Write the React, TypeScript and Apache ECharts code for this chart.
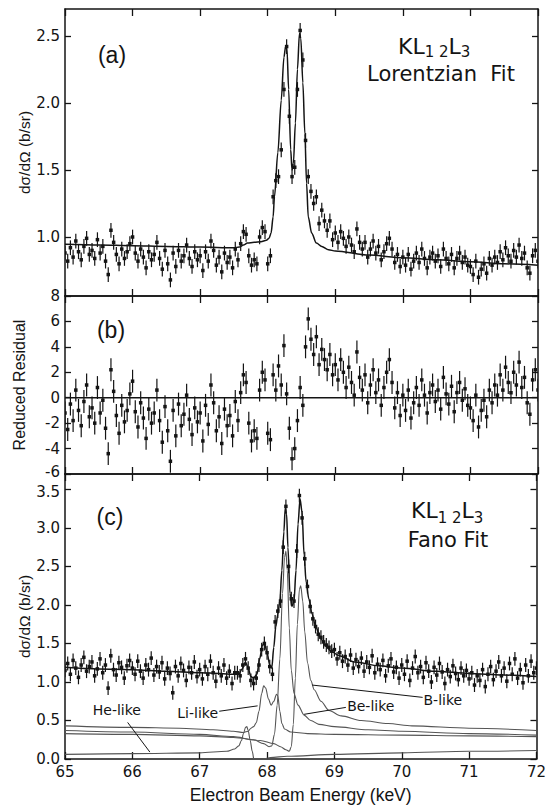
import React, { useEffect, useRef } from "react";
import * as echarts from "echarts";

// ---------- data ----------
const energy = [
  65.0, 65.04, 65.08, 65.12, 65.16, 65.2, 65.24, 65.28, 65.32, 65.36, 65.4, 65.44, 65.48, 65.52, 65.56, 65.6, 65.64, 65.68, 65.72, 65.76, 65.8, 65.84, 65.88, 65.92, 65.96,
  66.0, 66.04, 66.08, 66.12, 66.16, 66.2, 66.24, 66.28, 66.32, 66.36, 66.4, 66.44, 66.48, 66.52, 66.56, 66.6, 66.64, 66.68, 66.72, 66.76, 66.8, 66.84, 66.88, 66.92, 66.96,
  67.0, 67.04, 67.08, 67.12, 67.16, 67.2, 67.24, 67.28, 67.32, 67.36, 67.4, 67.44, 67.48, 67.52, 67.56, 67.6, 67.64, 67.68, 67.72, 67.76, 67.8, 67.84, 67.88, 67.92, 67.96,
  68.0, 68.04, 68.08, 68.12, 68.16, 68.2, 68.24, 68.28, 68.32, 68.36, 68.4, 68.44, 68.48, 68.52, 68.56, 68.6, 68.64, 68.68, 68.72, 68.76, 68.8, 68.84, 68.88, 68.92, 68.96,
  69.0, 69.04, 69.08, 69.12, 69.16, 69.2, 69.24, 69.28, 69.32, 69.36, 69.4, 69.44, 69.48, 69.52, 69.56, 69.6, 69.64, 69.68, 69.72, 69.76, 69.8, 69.84, 69.88, 69.92, 69.96,
  70.0, 70.04, 70.08, 70.12, 70.16, 70.2, 70.24, 70.28, 70.32, 70.36, 70.4, 70.44, 70.48, 70.52, 70.56, 70.6, 70.64, 70.68, 70.72, 70.76, 70.8, 70.84, 70.88, 70.92, 70.96,
  71.0, 71.04, 71.08, 71.12, 71.16, 71.2, 71.24, 71.28, 71.32, 71.36, 71.4, 71.44, 71.48, 71.52, 71.56, 71.6, 71.64, 71.68, 71.72, 71.76, 71.8, 71.84, 71.88, 71.92, 71.96,
  72.0,
];

// (a) measured cross section, b/sr
const crossSectionA = [
  0.88, 0.82, 0.92, 0.85, 0.97, 0.89, 0.83, 0.93, 0.99, 0.87, 0.9, 0.84, 0.98, 0.88, 0.93, 0.82, 0.72, 1.05, 0.96, 0.87, 0.8, 0.91, 0.84, 0.89, 0.95,
  1.0, 0.88, 0.82, 0.91, 0.85, 0.77, 0.89, 0.83, 0.87, 0.96, 0.84, 0.76, 0.9, 0.8, 0.68, 0.88, 0.78, 0.9, 0.82, 0.86, 0.94, 0.84, 0.78, 0.89, 0.83,
  0.86, 0.75, 0.89, 0.82, 0.97, 0.9, 0.79, 0.85, 0.74, 0.88, 0.81, 0.85, 0.77, 0.91, 0.83, 0.95, 1.04, 1.02, 0.86, 0.79, 0.83, 0.8, 1.0, 1.07, 1.04,
  0.8, 0.86, 1.3, 1.42, 1.45, 1.65, 2.1, 2.42, 1.9, 1.45, 1.52, 2.1, 2.54, 2.32, 1.72, 1.45, 1.34, 1.25, 1.3, 1.1, 1.2, 1.12, 1.05, 1.12, 0.98,
  1.03, 0.96, 1.04, 0.99, 0.93, 1.0, 0.94, 0.89, 1.06, 0.96, 0.91, 0.96, 0.85, 0.91, 0.97, 0.88, 0.93, 0.83, 0.89, 0.95, 0.99, 0.91, 0.81, 0.87, 0.78,
  0.85, 0.79, 0.87, 0.76, 0.82, 0.88, 0.81, 0.91, 0.84, 0.77, 0.85, 0.88, 0.82, 0.86, 0.78, 0.91, 0.84, 0.8, 0.87, 0.77, 0.84, 0.88, 0.81, 0.85, 0.79,
  0.78, 0.72, 0.82, 0.7, 0.76, 0.8, 0.73, 0.84, 0.79, 0.85, 0.81, 0.89, 0.83, 0.92, 0.86, 0.82, 0.9, 0.85, 0.94, 0.84, 0.88, 0.77, 0.73, 0.86, 0.9,
  0.82,
];

// (b) reduced residual of the Lorentzian fit
const residualB = [
  -1.2, -2.5, -0.5, -1.8, 0.6, -1.0, -2.2, -0.3, 1.0, -1.5, -0.8, -2.0, 0.8, -1.2, -0.2, -2.4, -4.4, 2.2, 0.5, -1.4, -2.8, -0.6, -1.9, -1.0, 0.3,
  1.3, -1.1, -2.3, -0.4, -1.6, -3.2, -0.9, -2.0, -1.2, 0.6, -1.8, -3.5, -0.7, -2.6, -5.0, -1.0, -3.0, -0.5, -2.2, -1.3, 0.2, -1.7, -2.9, -0.8, -1.9,
  -1.2, -3.4, -0.6, -2.1, 1.0, -0.4, -2.6, -1.5, -3.6, -0.9, -2.2, -1.4, -3.0, -0.3, -1.8, 0.4, 1.8, 1.2, -2.0, -3.4, -2.6, -3.2, 0.6, 2.0, 1.4,
  -2.8, -3.3, 1.8, 0.6, 2.5, 1.0, 4.1, 0.3, -2.4, -4.8, -4.0, -1.8, 0.8, -0.6, 4.0, 6.2, 4.6, 3.4, 4.8, 2.6, 3.8, 3.0, 2.2, 3.4, 1.8,
  2.6, 1.4, 3.0, 2.0, 0.8, 2.4, 1.2, 0.2, 3.6, 1.6, 0.6, 1.8, -0.4, 1.0, 2.2, 0.4, 1.4, -0.6, 0.8, 2.0, 3.0, 1.2, -0.8, 0.4, -1.4,
  0.2, -1.0, 0.6, -1.6, -0.4, 0.8, -0.6, 1.4, 0.2, -1.2, 0.4, 1.0, -0.3, 0.6, -0.9, 1.6, 0.3, -0.5, 0.9, -1.1, 0.4, 1.2, -0.2, 0.7, -0.6,
  -0.8, -1.8, 0.2, -2.3, -1.0, -0.2, -1.5, 0.6, -0.4, 1.0, 0.2, 1.8, 0.6, 2.4, 1.2, 0.4, 2.0, 1.0, 2.8, 0.8, 1.6, -0.4, -1.3, 1.4, 2.2,
  0.6,
];

// (c) measured cross section, b/sr
const crossSectionC = [
  1.15, 1.24, 1.1, 1.28, 1.18, 1.06, 1.22, 1.32, 1.14, 1.2, 1.26, 1.08, 1.17, 1.3, 1.12, 1.22, 0.92, 1.34, 1.16, 1.09, 1.25, 1.19, 1.05, 1.21, 1.28,
  1.18, 1.1, 1.27, 1.14, 1.05, 1.22, 1.16, 1.31, 1.09, 1.2, 1.13, 1.25, 1.04, 1.18, 1.11, 0.86, 1.2, 1.08, 1.24, 1.15, 1.02, 1.19, 1.12, 1.26, 1.07,
  1.16, 1.04, 1.2, 1.1, 1.27, 1.12, 1.01, 1.18, 1.08, 1.22, 1.05, 1.14, 0.98, 1.12, 1.12, 1.08, 1.22, 1.3, 1.18, 1.02, 0.98, 1.05, 1.22, 1.42, 1.5,
  1.38, 1.2, 1.1, 1.78, 1.92, 2.05, 2.75, 3.28, 2.5, 2.08, 2.05, 2.7, 3.42, 3.13, 2.6, 2.24, 1.98, 1.82, 1.72, 1.62, 1.58, 1.52, 1.48, 1.45, 1.4,
  1.42, 1.3, 1.38, 1.27, 1.33, 1.22, 1.35, 1.18, 1.29, 1.2, 1.31, 1.14, 1.26, 1.19, 1.34, 1.12, 1.23, 1.16, 1.28, 1.08, 1.21, 1.3, 1.13, 1.19, 1.05,
  1.22, 1.1, 1.27, 1.02, 1.18, 1.33, 1.12, 1.2, 1.06, 1.25, 1.14, 1.0, 1.19, 1.09, 1.24, 1.13, 0.98, 1.16, 1.07, 1.21, 1.11, 1.03, 1.18, 1.08, 1.15,
  1.04, 1.12, 0.96, 1.08, 1.02, 1.16, 0.94, 1.1, 1.2, 1.03, 1.14, 1.26, 1.08, 1.18, 1.01, 1.24, 1.1, 1.3, 1.05, 1.16, 0.99, 1.22, 1.08, 1.27, 1.12,
  1.18,
];

const ERR_A = 0.055;
const ERR_B = 0.9;
const ERR_C = 0.09;

// fit curves [energy, value]
const lorentzianFitA = [
  [65, 0.945], [65.5, 0.94], [66, 0.935], [66.5, 0.93], [67, 0.925], [67.5, 0.92], [67.58, 0.925], [67.64, 0.94],
  [67.7, 0.955], [67.8, 0.96], [67.9, 0.965], [67.98, 0.975], [68.02, 0.99], [68.05, 1.03], [68.08, 1.15], [68.1, 1.3],
  [68.15, 1.63], [68.2, 2.02], [68.24, 2.34], [68.265, 2.42], [68.285, 2.4], [68.31, 2.1], [68.34, 1.65], [68.36, 1.5],
  [68.38, 1.55], [68.41, 1.85], [68.44, 2.25], [68.47, 2.52], [68.49, 2.48], [68.52, 2.15], [68.55, 1.77], [68.575, 1.4],
  [68.6, 1.15], [68.65, 1.03], [68.72, 0.955], [68.8, 0.93], [68.9, 0.905], [69, 0.895], [69.5, 0.865], [70, 0.845],
  [70.5, 0.83], [71, 0.815], [71.5, 0.8], [72, 0.79],
];

const fanoFitC = [
  [65, 1.19], [65.5, 1.17], [66, 1.16], [66.5, 1.14], [67, 1.12], [67.3, 1.11], [67.5, 1.1], [67.58, 1.1], [67.63, 1.17],
  [67.68, 1.26], [67.72, 1.18], [67.76, 1.07], [67.8, 1.05], [67.85, 1.1], [67.89, 1.3], [67.93, 1.47], [67.96, 1.51],
  [68.0, 1.38], [68.04, 1.22], [68.07, 1.18], [68.1, 1.45], [68.13, 1.72], [68.16, 1.88], [68.19, 2.05], [68.22, 2.45],
  [68.25, 2.95], [68.27, 3.26], [68.29, 3.18], [68.31, 2.75], [68.34, 2.15], [68.37, 1.98], [68.4, 2.05], [68.43, 2.45],
  [68.46, 3.05], [68.49, 3.38], [68.52, 3.2], [68.55, 2.65], [68.58, 2.3], [68.62, 2.08], [68.67, 1.88], [68.72, 1.72],
  [68.8, 1.56], [68.87, 1.47], [68.95, 1.4], [69.07, 1.34], [69.3, 1.26], [69.66, 1.21], [70, 1.18], [70.5, 1.14],
  [71, 1.11], [71.5, 1.09], [72, 1.07],
];

const heLike = [
  [65, 0.06], [66, 0.07], [67, 0.08], [67.4, 0.1], [67.52, 0.13], [67.58, 0.17], [67.62, 0.24], [67.65, 0.33], [67.68, 0.41],
  [67.7, 0.42], [67.72, 0.37], [67.75, 0.24], [67.78, 0.1], [67.81, -0.03], [67.85, -0.1], [67.9, -0.06], [67.95, 0.0],
  [68.05, 0.02], [68.3, 0.035], [69, 0.06], [70, 0.08], [71, 0.1], [72, 0.11],
];
const liLike = [
  [65, 0.43], [66, 0.41], [66.7, 0.4], [67.2, 0.38], [67.5, 0.36], [67.65, 0.345], [67.72, 0.36], [67.76, 0.4], [67.8, 0.42],
  [67.84, 0.47], [67.88, 0.62], [67.92, 0.85], [67.95, 0.95], [67.98, 0.92], [68.02, 0.78], [68.06, 0.7], [68.1, 0.75],
  [68.14, 0.84], [68.16, 0.82], [68.19, 0.62], [68.22, 0.46], [68.26, 0.39], [68.35, 0.35], [68.6, 0.33], [69, 0.32],
  [70, 0.31], [71, 0.3], [72, 0.29],
];
const beLike = [
  [65, 0.37], [66, 0.35], [67, 0.32], [67.5, 0.29], [67.8, 0.25], [67.95, 0.2], [68.03, 0.16], [68.07, 0.17], [68.11, 0.32],
  [68.15, 0.7], [68.19, 1.3], [68.23, 2.15], [68.26, 2.62], [68.28, 2.7], [68.3, 2.45], [68.33, 1.7], [68.36, 1.15],
  [68.4, 0.85], [68.46, 0.7], [68.55, 0.57], [68.65, 0.5], [68.77, 0.45], [69, 0.42], [69.5, 0.38], [70, 0.36], [71, 0.33],
  [72, 0.31],
];
const bLike = [
  [65, 0.33], [66, 0.32], [67, 0.3], [67.5, 0.28], [67.9, 0.24], [68.1, 0.2], [68.2, 0.16], [68.28, 0.12], [68.33, 0.1],
  [68.36, 0.16], [68.39, 0.45], [68.42, 1.05], [68.45, 1.75], [68.48, 2.2], [68.5, 2.25], [68.53, 2.05], [68.56, 1.65],
  [68.6, 1.25], [68.65, 1.02], [68.7, 0.9], [68.8, 0.75], [68.92, 0.63], [69.1, 0.56], [69.4, 0.5], [69.8, 0.46],
  [70.15, 0.43], [71, 0.4], [72, 0.37],
];

const yTicksA = [1.0, 1.5, 2.0, 2.5];
const yTicksB = [-6, -4, -2, 0, 2, 4, 6, 8];
const yTicksC = [0, 0.5, 1.0, 1.5, 2.0, 2.5, 3.0, 3.5];

// component labels (data coordinates of panel c)
const componentLabels = [
  { text: "He-like", at: [65.77, 0.63], from: [65.93, 0.475], to: [66.26, 0.09] },
  { text: "Li-like", at: [66.97, 0.6], from: [67.29, 0.62], to: [67.86, 0.69] },
  { text: "Be-like", at: [69.54, 0.69], from: [69.17, 0.67], to: [68.55, 0.58] },
  { text: "B-like", at: [70.61, 0.76], from: [70.31, 0.8], to: [68.67, 0.96] },
];

// ---------- styles ----------
const INK = "#141414";
const GRAY = "#555555";
const SANS = '"Liberation Sans", Arial, sans-serif';
const WIDE = '"DejaVu Sans", sans-serif';

const axisLine = { show: true, onZero: false, lineStyle: { color: INK, width: 1.5 } };

function xAxis(gridIndex: number, position: string, labels: boolean, name?: string) {
  return {
    type: "value",
    gridIndex,
    position,
    min: 65,
    max: 72,
    interval: 1,
    axisLine,
    axisTick: { show: true, inside: true, length: 7, lineStyle: { color: INK, width: 1.3 } },
    axisLabel: { show: labels, margin: 5, fontFamily: WIDE, fontSize: 15, color: INK },
    splitLine: { show: false },
    name: name || "",
    nameLocation: "middle",
    nameGap: 27,
    nameMoveOverlap: false,
    nameTextStyle: { fontFamily: SANS, fontSize: 17.5, color: INK },
  };
}

function yAxis(
  gridIndex: number,
  position: string,
  min: number,
  max: number,
  ticks: number[],
  labels: boolean,
  digits: number,
  name?: string,
  nameSize?: number,
  nameGap?: number,
  edge?: "lo" | "hi"
) {
  return {
    type: "value",
    gridIndex,
    position,
    min,
    max,
    axisLine,
    axisTick: { show: true, inside: true, length: 6, customValues: ticks, lineStyle: { color: INK, width: 1.3 } },
    axisLabel: {
      show: labels,
      customValues: ticks,
      margin: 5,
      fontFamily: WIDE,
      fontSize: 15,
      color: INK,
      formatter: (v: number) => {
        const s = v.toFixed(digits);
        if (edge === "lo" && v === min) return `{lo|${s}}`;
        if (edge === "hi" && v === ticks[ticks.length - 1]) return `{hi|${s}}`;
        return s;
      },
      rich: {
        lo: { fontFamily: WIDE, fontSize: 15, color: INK, padding: [0, 0, 5, 0] },
        hi: { fontFamily: WIDE, fontSize: 15, color: INK, padding: [5, 0, 0, 0] },
      },
    },
    splitLine: { show: false },
    name: name || "",
    nameLocation: "middle",
    nameGap: nameGap || 33,
    nameMoveOverlap: false,
    nameTextStyle: { fontFamily: SANS, fontSize: nameSize || 15.5, color: INK },
  };
}

function errorBars(axisIndex: number, values: number[], err: number) {
  return {
    type: "custom",
    xAxisIndex: axisIndex,
    yAxisIndex: axisIndex,
    silent: true,
    clip: true,
    z: 4,
    encode: { x: 0, y: 1 },
    data: energy.map((e, i) => [e, values[i], err]),
    renderItem: (_params: any, api: any) => {
      const x = api.value(0);
      const y = api.value(1);
      const e = api.value(2);
      const top = api.coord([x, y + e]);
      const bot = api.coord([x, y - e]);
      const c = api.coord([x, y]);
      return {
        type: "group",
        children: [
          {
            type: "line",
            shape: { x1: top[0], y1: top[1], x2: bot[0], y2: bot[1] },
            style: { stroke: INK, lineWidth: 1.2 },
          },
          {
            type: "rect",
            shape: { x: c[0] - 1.75, y: c[1] - 1.75, width: 3.5, height: 3.5 },
            style: { fill: INK },
          },
        ],
      };
    },
  };
}

function curve(axisIndex: number, data: number[][], color: string, width: number, z = 3) {
  return {
    type: "line",
    xAxisIndex: axisIndex,
    yAxisIndex: axisIndex,
    data,
    showSymbol: false,
    symbol: "none",
    smooth: 0.3,
    smoothMonotone: "x",
    silent: true,
    clip: true,
    z,
    lineStyle: { color, width },
  };
}

function text(t: string, x: number, y: number, font: string, align = "center") {
  return {
    type: "text",
    x,
    y,
    silent: true,
    z: 10,
    style: {
      text: t,
      font,
      fill: INK,
      textAlign: align,
      textVerticalAlign: "middle",
      align,
      verticalAlign: "middle",
    },
  };
}

function klLabel(x0: number, yc: number, bigLine: number, subLine: number) {
  return {
    type: "text",
    x: x0,
    y: yc,
    silent: true,
    z: 10,
    style: {
      text: "{b|KL}{s|1 2}{b|L}{s|3}",
      fill: INK,
      textAlign: "left",
      textVerticalAlign: "middle",
      align: "left",
      verticalAlign: "middle",
      rich: {
        b: { font: `22px ${WIDE}`, fill: INK, lineHeight: bigLine, verticalAlign: "middle" },
        s: { font: `15px ${WIDE}`, fill: INK, lineHeight: subLine, verticalAlign: "bottom" },
      },
    },
  };
}

export default function App() {
  const ref = useRef<HTMLDivElement>(null);

  useEffect(() => {
    if (!ref.current) return;
    const chart = echarts.init(ref.current, undefined, { renderer: "svg" });

    const grids = [
      { left: 65, right: 11, top: 9, height: 287 },
      { left: 65, right: 11, top: 296, height: 178 },
      { left: 65, right: 11, top: 474, height: 288 },
    ];

    const option: any = {
      animation: false,
      backgroundColor: "#ffffff",
      grid: grids,
      xAxis: [
        xAxis(0, "bottom", false),
        xAxis(0, "top", false),
        xAxis(1, "bottom", false),
        xAxis(1, "top", false),
        xAxis(2, "bottom", true, "Electron Beam Energy (keV)"),
        xAxis(2, "top", false),
      ],
      yAxis: [
        yAxis(0, "left", 0.56, 2.7, yTicksA, true, 1, "dσ/dΩ (b/sr)", 15.5, 33),
        yAxis(0, "right", 0.56, 2.7, yTicksA, false, 1),
        yAxis(1, "left", -6, 8, yTicksB, true, 0, "Reduced Residual", 16, 38, "lo"),
        yAxis(1, "right", -6, 8, yTicksB, false, 0),
        yAxis(2, "left", 0, 3.7, yTicksC, true, 1, "dσ/dΩ (b/sr)", 15.5, 33, "hi"),
        yAxis(2, "right", 0, 3.7, yTicksC, false, 1),
      ],
      series: [
        errorBars(0, crossSectionA, ERR_A),
        curve(0, lorentzianFitA, INK, 1.5, 5),
        errorBars(2, residualB, ERR_B),
        curve(2, [[65, 0], [72, 0]], INK, 1.6, 5),
        curve(4, heLike, GRAY, 1.1),
        curve(4, liLike, GRAY, 1.1),
        curve(4, beLike, GRAY, 1.1),
        curve(4, bLike, GRAY, 1.1),
        errorBars(4, crossSectionC, ERR_C),
        curve(4, fanoFitC, INK, 1.5, 5),
      ],
    };
    chart.setOption(option);

    const toPx = (p: number[]) => chart.convertToPixel({ xAxisIndex: 4, yAxisIndex: 4 } as any, p) as number[];
    const labelEls: any[] = [];
    componentLabels.forEach((c) => {
      const a = toPx(c.at);
      const f = toPx(c.from);
      const t = toPx(c.to);
      labelEls.push(text(c.text, a[0], a[1], `14px ${WIDE}`));
      labelEls.push({
        type: "line",
        silent: true,
        z: 9,
        shape: { x1: f[0], y1: f[1], x2: t[0], y2: t[1] },
        style: { stroke: INK, lineWidth: 1 },
      });
    });

    chart.setOption({
      graphic: [
        text("(a)", 112, 55, `23px ${SANS}`),
        text("(b)", 111, 330, `23px ${SANS}`),
        text("(c)", 110, 517, `23px ${SANS}`),
        klLabel(398, 46.5, 26, 14),
        text("Lorentzian  Fit", 441, 74, `21px ${WIDE}`),
        klLabel(411, 510.5, 30, 16),
        text("Fano Fit", 448, 540, `21px ${WIDE}`),
        ...labelEls,
      ],
    });

    return () => chart.dispose();
  }, []);

  return (
    <div
      ref={ref}
      style={{ position: "fixed", left: 0, top: 0, width: 549, height: 805, background: "#fff" }}
    />
  );
}
